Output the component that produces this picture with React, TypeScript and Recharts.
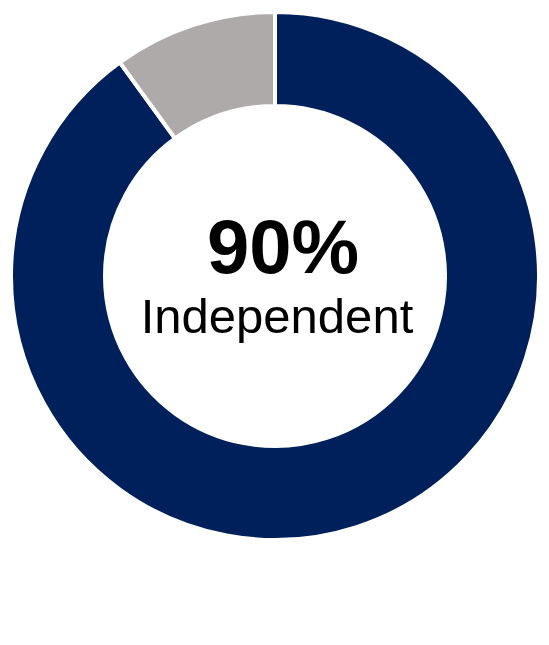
import { Label, Pie, PieChart, Cell } from "recharts";

const segmentNames = ["Independent", "Other"];
const segmentValues = [90, 10];
const segmentColors = ["#00205b", "#aeaaaa"];
const centerValue = "90%";
const centerCaption = "Independent";

const data = segmentNames.map((name, i) => ({ name, value: segmentValues[i] }));

const renderCenter = (props: any) => {
  const vb = props.viewBox || {};
  const cx = vb.cx ?? 262;
  const cy = vb.cy ?? 263;
  return (
    <g fontFamily="'Liberation Sans', Arial, sans-serif" fill="#000">
      <text x={cx + 13} y={cy + 2} textAnchor="middle" fontSize={76} fontWeight="bold">
        {centerValue}
      </text>
      <text x={cx + 7} y={cy + 62} textAnchor="middle" fontSize={49}>
        {centerCaption}
      </text>
    </g>
  );
};

export default function App() {
  return (
    <div style={{ width: 541, height: 637, background: "#fff" }}>
      <PieChart width={541} height={637}>
        <Pie
          data={data}
          dataKey="value"
          nameKey="name"
          cx={262}
          cy={263}
          innerRadius={170}
          outerRadius={264}
          startAngle={90}
          endAngle={-270}
          stroke="#ffffff"
          strokeWidth={4}
          isAnimationActive={false}
        >
          {data.map((d, i) => (
            <Cell key={d.name} fill={segmentColors[i]} />
          ))}
          <Label position="center" content={renderCenter} />
        </Pie>
      </PieChart>
    </div>
  );
}
